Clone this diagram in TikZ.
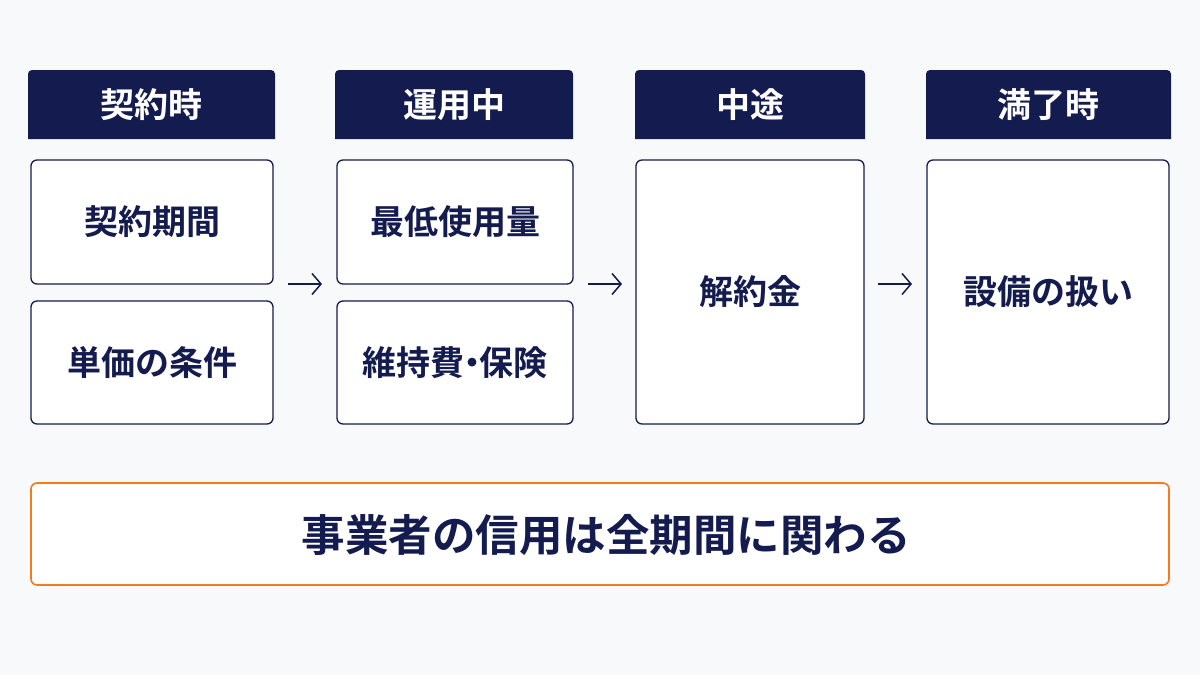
\documentclass[tikz,border=0pt]{standalone}
\usepackage{fontspec}
\newfontfamily\cjk{Noto Sans CJK JP Bold}
\usetikzlibrary{arrows.meta}
\definecolor{navy}{HTML}{141B4F}
\definecolor{bg}{HTML}{F8F9FB}
\definecolor{orng}{HTML}{F47A20}
\tikzset{
  hdrtext/.style={text=white, font=\cjk\fontsize{34}{38}\selectfont},
  itembox/.style={draw=navy, line width=1.3pt, fill=white, rounded corners=6pt},
  itemtext/.style={text=navy, font=\cjk\fontsize{34}{38}\selectfont},
  flow/.style={draw=navy, line width=1.5pt, -{Straight Barb[length=9pt,width=21pt]}},
}
\begin{document}
\begin{tikzpicture}[x=1pt,y=-1pt]
\fill[bg] (0,0) rectangle (1200,675);
\useasboundingbox (0,0) rectangle (1200,675);
% headers
\foreach \n/\a/\b/\t in {h1/28/275/契約時, h2/335/573/運用中, h3/635/865/中途, h4/926/1171/満了時}{
  \fill[navy] (\a,139) [rounded corners=4pt] -- (\a,70) -- (\b,70) [sharp corners] -- (\b,139) -- cycle;
  \node[hdrtext] (\n) at ({(\a+\b)/2},105) {\t};
}
% boxes
\node[itembox, minimum width=242pt, minimum height=124pt] (b1) at (152,222) {};
\node[itemtext] at (b1) {契約期間};
\node[itembox, minimum width=242pt, minimum height=123pt] (b2) at (152,362.5) {};
\node[itemtext] at (b2) {単価の条件};
\node[itembox, minimum width=236pt, minimum height=124pt] (b3) at (455,222) {};
\node[itemtext] at (b3) {最低使用量};
\node[itembox, minimum width=236pt, minimum height=123pt] (b4) at (455,362.5) {};
\node[itemtext] at (b4) {維持費\hspace{-0.27em}・\hspace{-0.27em}保険};
\node[itembox, minimum width=228pt, minimum height=264pt] (b5) at (750,292) {};
\node[itemtext] at (b5) {解約金};
\node[itembox, minimum width=242pt, minimum height=264pt] (b6) at (1048,292) {};
\node[itemtext] at (b6) {設備の扱い};
% arrows
\coordinate (a1s) at (288,284); \coordinate (a1e) at (322,284);
\coordinate (a2s) at (588,284); \coordinate (a2e) at (622,284);
\coordinate (a3s) at (878,284); \coordinate (a3e) at (912,284);
\draw[flow] (a1s) -- (a1e);
\draw[flow] (a2s) -- (a2e);
\draw[flow] (a3s) -- (a3e);
% bottom
\node[draw=orng, line width=1.6pt, fill=white, rounded corners=6pt, minimum width=1138pt, minimum height=102pt] (bot) at (600,534) {};
\node[text=navy, font=\cjk\fontsize{43.5}{48}\selectfont] (bottext) at (606,535) {事業者の信用は全期間に関わる};
\end{tikzpicture}
\end{document}
